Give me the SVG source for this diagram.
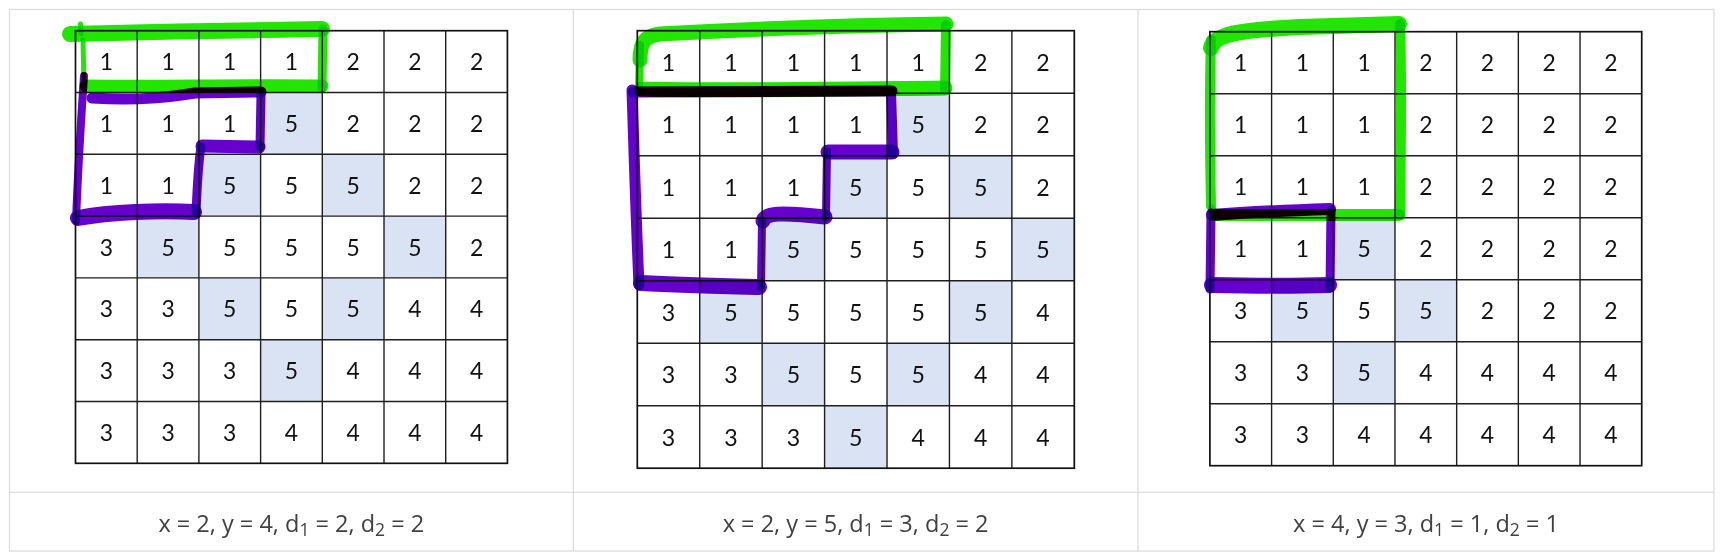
<svg xmlns="http://www.w3.org/2000/svg" width="1723" height="556" viewBox="0 0 1723 556">
<style>
.frame{fill:none;stroke:#dcdcdc;stroke-width:1.3}
.sh{fill:#dae3f3}
.gl{fill:none;stroke:#1e1e1e;stroke-width:1.4}
.go{fill:none;stroke:#111;stroke-width:1.7}
.n{font-family:Lato,"Open Sans",sans-serif;font-size:23px;fill:#111;text-anchor:middle}
.cap{font-family:"Open Sans","Noto Sans",sans-serif;font-size:23.5px;fill:#404040;text-anchor:middle}
.g{fill:none;stroke:#22e600;stroke-linecap:round;stroke-linejoin:round;mix-blend-mode:multiply}
.p{fill:none;stroke:#6600cc;stroke-linecap:round;stroke-linejoin:round;mix-blend-mode:multiply}
</style>
<defs>
<path id="grid" d="M62 0V434M124 0V434M186 0V434M248 0V434M310 0V434M372 0V434M0 62H434M0 124H434M0 186H434M0 248H434M0 310H434M0 372H434"/>
</defs>
<rect x="0" y="0" width="1723" height="556" fill="#fff"/>
<g id="frame">
<rect class="frame" x="9.5" y="9.5" width="1704.5" height="541.5"/>
<line class="frame" x1="573.3" y1="9.5" x2="573.3" y2="551"/>
<line class="frame" x1="1138" y1="9.5" x2="1138" y2="551"/>
<line class="frame" x1="9.5" y1="492.3" x2="1714" y2="492.3"/>
</g>
<g id="panel1" transform="translate(75.5,30.7) scale(0.9952,0.9968)">
<rect class="sh" x="186" y="62" width="62" height="62"/>
<rect class="sh" x="124" y="124" width="62" height="62"/>
<rect class="sh" x="248" y="124" width="62" height="62"/>
<rect class="sh" x="62" y="186" width="62" height="62"/>
<rect class="sh" x="310" y="186" width="62" height="62"/>
<rect class="sh" x="124" y="248" width="62" height="62"/>
<rect class="sh" x="248" y="248" width="62" height="62"/>
<rect class="sh" x="186" y="310" width="62" height="62"/>
<use href="#grid" class="gl"/>
<rect class="go" x="0" y="0" width="434" height="434"/>
<text class="n" x="31" y="39.6">1</text><text class="n" x="93" y="39.6">1</text><text class="n" x="155" y="39.6">1</text><text class="n" x="217" y="39.6">1</text><text class="n" x="279" y="39.6">2</text><text class="n" x="341" y="39.6">2</text><text class="n" x="403" y="39.6">2</text>
<text class="n" x="31" y="101.6">1</text><text class="n" x="93" y="101.6">1</text><text class="n" x="155" y="101.6">1</text><text class="n" x="217" y="101.6">5</text><text class="n" x="279" y="101.6">2</text><text class="n" x="341" y="101.6">2</text><text class="n" x="403" y="101.6">2</text>
<text class="n" x="31" y="163.6">1</text><text class="n" x="93" y="163.6">1</text><text class="n" x="155" y="163.6">5</text><text class="n" x="217" y="163.6">5</text><text class="n" x="279" y="163.6">5</text><text class="n" x="341" y="163.6">2</text><text class="n" x="403" y="163.6">2</text>
<text class="n" x="31" y="225.6">3</text><text class="n" x="93" y="225.6">5</text><text class="n" x="155" y="225.6">5</text><text class="n" x="217" y="225.6">5</text><text class="n" x="279" y="225.6">5</text><text class="n" x="341" y="225.6">5</text><text class="n" x="403" y="225.6">2</text>
<text class="n" x="31" y="287.6">3</text><text class="n" x="93" y="287.6">3</text><text class="n" x="155" y="287.6">5</text><text class="n" x="217" y="287.6">5</text><text class="n" x="279" y="287.6">5</text><text class="n" x="341" y="287.6">4</text><text class="n" x="403" y="287.6">4</text>
<text class="n" x="31" y="349.6">3</text><text class="n" x="93" y="349.6">3</text><text class="n" x="155" y="349.6">3</text><text class="n" x="217" y="349.6">5</text><text class="n" x="279" y="349.6">4</text><text class="n" x="341" y="349.6">4</text><text class="n" x="403" y="349.6">4</text>
<text class="n" x="31" y="411.6">3</text><text class="n" x="93" y="411.6">3</text><text class="n" x="155" y="411.6">3</text><text class="n" x="217" y="411.6">4</text><text class="n" x="279" y="411.6">4</text><text class="n" x="341" y="411.6">4</text><text class="n" x="403" y="411.6">4</text>
</g>
<g id="panel2" transform="translate(637.3,30.7) scale(1.0069,1.0081)">
<rect class="sh" x="248" y="62" width="62" height="62"/>
<rect class="sh" x="186" y="124" width="62" height="62"/>
<rect class="sh" x="310" y="124" width="62" height="62"/>
<rect class="sh" x="124" y="186" width="62" height="62"/>
<rect class="sh" x="372" y="186" width="62" height="62"/>
<rect class="sh" x="62" y="248" width="62" height="62"/>
<rect class="sh" x="310" y="248" width="62" height="62"/>
<rect class="sh" x="124" y="310" width="62" height="62"/>
<rect class="sh" x="248" y="310" width="62" height="62"/>
<rect class="sh" x="186" y="372" width="62" height="62"/>
<use href="#grid" class="gl"/>
<rect class="go" x="0" y="0" width="434" height="434"/>
<text class="n" x="31" y="39.6">1</text><text class="n" x="93" y="39.6">1</text><text class="n" x="155" y="39.6">1</text><text class="n" x="217" y="39.6">1</text><text class="n" x="279" y="39.6">1</text><text class="n" x="341" y="39.6">2</text><text class="n" x="403" y="39.6">2</text>
<text class="n" x="31" y="101.6">1</text><text class="n" x="93" y="101.6">1</text><text class="n" x="155" y="101.6">1</text><text class="n" x="217" y="101.6">1</text><text class="n" x="279" y="101.6">5</text><text class="n" x="341" y="101.6">2</text><text class="n" x="403" y="101.6">2</text>
<text class="n" x="31" y="163.6">1</text><text class="n" x="93" y="163.6">1</text><text class="n" x="155" y="163.6">1</text><text class="n" x="217" y="163.6">5</text><text class="n" x="279" y="163.6">5</text><text class="n" x="341" y="163.6">5</text><text class="n" x="403" y="163.6">2</text>
<text class="n" x="31" y="225.6">1</text><text class="n" x="93" y="225.6">1</text><text class="n" x="155" y="225.6">5</text><text class="n" x="217" y="225.6">5</text><text class="n" x="279" y="225.6">5</text><text class="n" x="341" y="225.6">5</text><text class="n" x="403" y="225.6">5</text>
<text class="n" x="31" y="287.6">3</text><text class="n" x="93" y="287.6">5</text><text class="n" x="155" y="287.6">5</text><text class="n" x="217" y="287.6">5</text><text class="n" x="279" y="287.6">5</text><text class="n" x="341" y="287.6">5</text><text class="n" x="403" y="287.6">4</text>
<text class="n" x="31" y="349.6">3</text><text class="n" x="93" y="349.6">3</text><text class="n" x="155" y="349.6">5</text><text class="n" x="217" y="349.6">5</text><text class="n" x="279" y="349.6">5</text><text class="n" x="341" y="349.6">4</text><text class="n" x="403" y="349.6">4</text>
<text class="n" x="31" y="411.6">3</text><text class="n" x="93" y="411.6">3</text><text class="n" x="155" y="411.6">3</text><text class="n" x="217" y="411.6">5</text><text class="n" x="279" y="411.6">4</text><text class="n" x="341" y="411.6">4</text><text class="n" x="403" y="411.6">4</text>
</g>
<g id="panel3" transform="translate(1209.9,31.7) scale(0.995,1)">
<rect class="sh" x="124" y="186" width="62" height="62"/>
<rect class="sh" x="62" y="248" width="62" height="62"/>
<rect class="sh" x="186" y="248" width="62" height="62"/>
<rect class="sh" x="124" y="310" width="62" height="62"/>
<use href="#grid" class="gl"/>
<rect class="go" x="0" y="0" width="434" height="434"/>
<text class="n" x="31" y="39.6">1</text><text class="n" x="93" y="39.6">1</text><text class="n" x="155" y="39.6">1</text><text class="n" x="217" y="39.6">2</text><text class="n" x="279" y="39.6">2</text><text class="n" x="341" y="39.6">2</text><text class="n" x="403" y="39.6">2</text>
<text class="n" x="31" y="101.6">1</text><text class="n" x="93" y="101.6">1</text><text class="n" x="155" y="101.6">1</text><text class="n" x="217" y="101.6">2</text><text class="n" x="279" y="101.6">2</text><text class="n" x="341" y="101.6">2</text><text class="n" x="403" y="101.6">2</text>
<text class="n" x="31" y="163.6">1</text><text class="n" x="93" y="163.6">1</text><text class="n" x="155" y="163.6">1</text><text class="n" x="217" y="163.6">2</text><text class="n" x="279" y="163.6">2</text><text class="n" x="341" y="163.6">2</text><text class="n" x="403" y="163.6">2</text>
<text class="n" x="31" y="225.6">1</text><text class="n" x="93" y="225.6">1</text><text class="n" x="155" y="225.6">5</text><text class="n" x="217" y="225.6">2</text><text class="n" x="279" y="225.6">2</text><text class="n" x="341" y="225.6">2</text><text class="n" x="403" y="225.6">2</text>
<text class="n" x="31" y="287.6">3</text><text class="n" x="93" y="287.6">5</text><text class="n" x="155" y="287.6">5</text><text class="n" x="217" y="287.6">5</text><text class="n" x="279" y="287.6">2</text><text class="n" x="341" y="287.6">2</text><text class="n" x="403" y="287.6">2</text>
<text class="n" x="31" y="349.6">3</text><text class="n" x="93" y="349.6">3</text><text class="n" x="155" y="349.6">5</text><text class="n" x="217" y="349.6">4</text><text class="n" x="279" y="349.6">4</text><text class="n" x="341" y="349.6">4</text><text class="n" x="403" y="349.6">4</text>
<text class="n" x="31" y="411.6">3</text><text class="n" x="93" y="411.6">3</text><text class="n" x="155" y="411.6">4</text><text class="n" x="217" y="411.6">4</text><text class="n" x="279" y="411.6">4</text><text class="n" x="341" y="411.6">4</text><text class="n" x="403" y="411.6">4</text>
</g>
<g id="strokes">
<path class="g" stroke-width="16" d="M70 34C150 32 250 30 322 29"/>
<path class="g" stroke-width="5" d="M81 34L80.5 24"/>
<path class="g" stroke-width="9" d="M323 29L322 88"/>
<path class="g" stroke-width="13" d="M86 86C150 87 250 85 322 86"/>
<path class="g" stroke-width="5" d="M83 40L84 84"/>
<path class="p" stroke-width="8" d="M84 76C81 120 78 170 76 221"/>
<path class="p" stroke-width="16" d="M78 218C110 212 160 210 194 212"/>
<path class="p" stroke-width="9" d="M196 213C197 190 198 165 201 147"/>
<path class="p" stroke-width="13" d="M202 146L259 147"/>
<path class="p" stroke-width="9" d="M260 147L261 93"/>
<path class="p" stroke-width="11" d="M92 98C140 101 170 97 195 93L261 92"/>
<path class="g" stroke-width="15" d="M640 60C640 42 645 36 660 34C750 29 850 25 946 24"/>
<path class="g" stroke-width="10" d="M946 25L945 90"/>
<path class="g" stroke-width="15" d="M642 89C720 91 850 89 945 88"/>
<path class="g" stroke-width="8" d="M640 45L639 90"/>
<path class="p" stroke-width="11" d="M633 92L892 91"/>
<path class="p" stroke-width="11" d="M632 90C634 150 636 220 639 285"/>
<path class="p" stroke-width="16" d="M641 283C680 285 720 286 759 287"/>
<path class="p" stroke-width="8" d="M761 287L762 221"/>
<path class="p" stroke-width="15" d="M763 221C765 213 780 212 825 217"/>
<path class="p" stroke-width="8" d="M826 217L827 151"/>
<path class="p" stroke-width="15" d="M828 152L892 152"/>
<path class="p" stroke-width="10" d="M893 154L891 92"/>
<path class="g" stroke-width="16" d="M1211 48C1214 34 1240 30 1300 27L1399 24"/>
<path class="g" stroke-width="10" d="M1211 40C1209 100 1210 160 1211 206"/>
<path class="g" stroke-width="6" d="M1211 207L1216 212"/>
<path class="g" stroke-width="10" d="M1400 24C1402 80 1401 150 1400 215"/>
<path class="g" stroke-width="12" d="M1216 215C1280 215 1340 215 1399 215"/>
<path class="p" stroke-width="12" d="M1212 215C1250 212 1300 210 1330 209"/>
<path class="p" stroke-width="9" d="M1331 210L1330 288"/>
<path class="p" stroke-width="16" d="M1212 285C1260 286 1300 286 1329 285"/>
<path class="p" stroke-width="9" d="M1211 213L1210 289"/>
</g>
<g id="captions">
<text class="cap" x="291.3" y="531.7">x = 2, y = 4, d<tspan font-size="17.5" dy="4">1</tspan><tspan dy="-4"> = 2, d</tspan><tspan font-size="17.5" dy="4">2</tspan><tspan dy="-4"> = 2</tspan></text>
<text class="cap" x="855.6" y="531.7">x = 2, y = 5, d<tspan font-size="17.5" dy="4">1</tspan><tspan dy="-4"> = 3, d</tspan><tspan font-size="17.5" dy="4">2</tspan><tspan dy="-4"> = 2</tspan></text>
<text class="cap" x="1426" y="531.7">x = 4, y = 3, d<tspan font-size="17.5" dy="4">1</tspan><tspan dy="-4"> = 1, d</tspan><tspan font-size="17.5" dy="4">2</tspan><tspan dy="-4"> = 1</tspan></text>
</g>
</svg>
